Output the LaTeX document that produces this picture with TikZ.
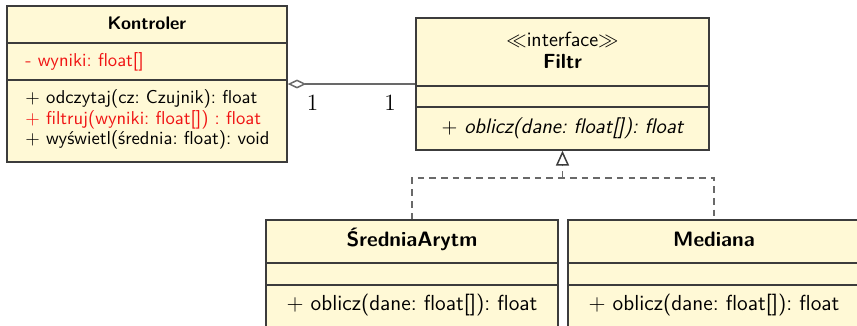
\documentclass[tikz,border=0pt]{standalone}
\usetikzlibrary{arrows.meta,fit}
\definecolor{classfill}{RGB}{255,249,214}
\definecolor{classline}{RGB}{60,60,60}
\definecolor{linkgray}{RGB}{105,105,105}
\definecolor{attrred}{RGB}{240,20,20}
\begin{document}
\frenchspacing
\begin{tikzpicture}[x=0.5376pt,y=-0.5376pt,
  classbox/.style={draw=classline, fill=classfill, line width=0.75pt, inner sep=0pt, rectangle},
  sepline/.style={draw=classline, line width=0.75pt},
  member/.style={anchor=west, inner sep=0pt, text height=.75em, text depth=.25em, font=\sffamily},
  centred/.style={inner sep=0pt, text height=.75em, text depth=.25em},
  titlefont/.style={font=\sffamily\bfseries\fontsize{11.2}{13.5}\selectfont},
  opfont/.style={font=\sffamily\fontsize{11.7}{14}\selectfont},
  assoc/.style={draw=linkgray, line width=0.8pt},
  realize/.style={draw=linkgray, line width=0.8pt, dash pattern=on 3.6pt off 2.7pt},
  mult/.style={inner sep=0pt, font=\fontsize{12.5}{15}\selectfont}
]
\useasboundingbox (0,0) rectangle (857,325);
\clip (0,0) rectangle (857,325);

% class boxes
\node[classbox, fit={(7,6) (287,162)}] (kont) {};
\node[classbox, fit={(416,18) (709,150)}] (filtr) {};
\node[classbox, fit={(266,220) (558,340)}] (sred) {};
\node[classbox, fit={(568,220) (860,340)}] (med) {};

% compartment separators
\draw[sepline] (kont.west |- 0,43) -- (kont.east |- 0,43);
\draw[sepline] (kont.west |- 0,80) -- (kont.east |- 0,80);
\draw[sepline] (filtr.west |- 0,86) -- (filtr.east |- 0,86);
\draw[sepline] (filtr.west |- 0,107) -- (filtr.east |- 0,107);
\draw[sepline] (sred.west |- 0,263) -- (sred.east |- 0,263);
\draw[sepline] (sred.west |- 0,285) -- (sred.east |- 0,285);
\draw[sepline] (med.west |- 0,263) -- (med.east |- 0,263);
\draw[sepline] (med.west |- 0,285) -- (med.east |- 0,285);

% Kontroler
\node[centred, font=\sffamily\bfseries\fontsize{9.8}{12}\selectfont] (kontT) at (147,25) {Kontroler};
\node[member, text=attrred] (kontA) at (25,61.5) {- wyniki: float[]};
\node[member] (kontM1) at (25,99) {$+$ odczytaj(cz: Czujnik): float};
\node[member, text=attrred] (kontM2) at (25,119.5) {$+$ filtruj(wyniki: float[]) : float};
\node[member] (kontM3) at (25,140) {$+$ wyświetl(średnia: float): void};

% Filtr
\node[centred, font=\sffamily\fontsize{11}{13}\selectfont] (filtrS) at (562.5,41.5) {$\ll$interface$\gg$};
\node[centred, font=\sffamily\bfseries\fontsize{11}{13}\selectfont] (filtrT) at (562.5,63.5) {Filtr};
\node[centred, font=\sffamily\itshape\fontsize{11.3}{13.5}\selectfont] (filtrM) at (562.5,128.5) {$+$ oblicz(dane: float[]): float};

% implementations
\node[centred, titlefont] (sredT) at (412,242) {ŚredniaArytm};
\node[centred, opfont] (sredM) at (412,306) {$+$ oblicz(dane: float[]): float};
\node[centred, titlefont] (medT) at (714,242) {Mediana};
\node[centred, opfont] (medM) at (714,306) {$+$ oblicz(dane: float[]): float};

% aggregation Kontroler <>-- Filtr
\draw[assoc, -{Diamond[open, length=10pt, width=4.8pt, line width=0.8pt]}] (filtr.west) -- (kont.east);
\node[mult] (multK) at (312.5,102.5) {1};
\node[mult] (multF) at (390,102.5) {1};

% realization of the interface
\coordinate (fork) at (filtr.south |- 0,178);
\draw[realize] (sred.north) |- (fork) -| (med.north);
\draw[realize, -{Triangle[open, length=8pt, width=7pt, line width=0.8pt, color=classline]}] (fork) -- (filtr.south);
\end{tikzpicture}
\end{document}
